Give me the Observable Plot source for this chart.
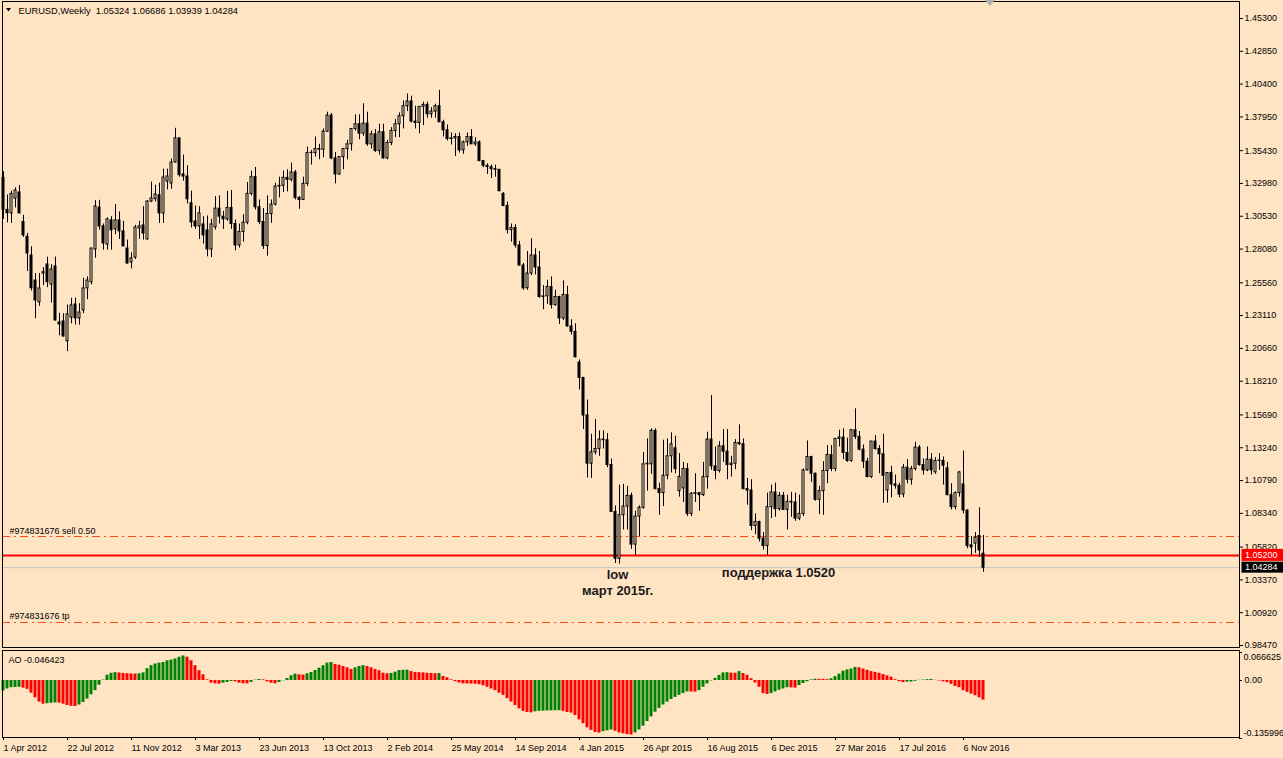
<!DOCTYPE html>
<html>
<head>
<meta charset="utf-8">
<script src="https://cdn.jsdelivr.net/npm/d3@7"></script>
<script src="https://cdn.jsdelivr.net/npm/@observablehq/plot@0.6"></script>
<style>
html,body{margin:0;padding:0;background:#FFE4C4;overflow:hidden;}
#chart{position:relative;width:1283px;height:758px;overflow:hidden;background:#FFE4C4;}
#chart svg{position:absolute;left:0;}
</style>
</head>
<body>
<div id="chart"></div>
<script>
// ---------- data: weekly EURUSD candles, index 0 = week of 1 Apr 2012 ----------
const open = [
1.3340,1.3100,1.3075,1.3185,1.3230,1.3010,1.2900,1.2760,1.2573,1.2410,
1.2625,1.2693,1.2543,1.2678,1.2260,1.2267,1.2120,1.2297,1.2394,1.2290,
1.2350,1.2514,1.2560,1.2805,1.3118,1.2977,1.2842,1.3022,1.2955,1.3022,
1.2940,1.2812,1.2708,1.2745,1.2962,1.2984,1.2880,1.3163,1.3180,1.3210,
1.3074,1.3313,1.3298,1.3455,1.3635,1.3365,1.3350,1.3150,1.3014,1.2977,
1.2992,1.2947,1.2805,1.2970,1.3110,1.3050,1.3030,1.3115,1.2995,1.2835,
1.2935,1.3005,1.3220,1.3345,1.3120,1.3010,1.2830,1.3070,1.3140,1.3275,
1.3280,1.3340,1.3325,1.3380,1.3190,1.3175,1.3295,1.3525,1.3525,1.3555,
1.3550,1.3685,1.3805,1.3485,1.3365,1.3495,1.3555,1.3590,1.3705,1.3740,
1.3670,1.3745,1.3590,1.3665,1.3540,1.3680,1.3485,1.3600,1.3690,1.3740,
1.3800,1.3875,1.3910,1.3760,1.3750,1.3870,1.3885,1.3815,1.3835,1.3875,
1.3755,1.3695,1.3630,1.3635,1.3645,1.3545,1.3605,1.3645,1.3590,1.3605,
1.3465,1.3430,1.3420,1.3405,1.3400,1.3220,1.3130,1.2950,1.2965,1.2835,
1.2685,1.2515,1.2625,1.2760,1.2670,1.2450,1.2455,1.2525,1.2390,1.2450,
1.2290,1.2465,1.2230,1.2190,1.1960,1.1845,1.1565,1.1205,1.1290,1.1315,
1.1385,1.1380,1.1195,1.0845,1.0495,1.0820,1.0885,1.0965,1.0600,1.0810,
1.0875,1.1200,1.1200,1.1450,1.1015,1.0985,1.1115,1.1260,1.1320,1.1000,
1.1020,1.1165,1.0830,1.0980,1.0985,1.0970,1.1105,1.1385,1.1185,1.1150,
1.1335,1.1295,1.1195,1.1205,1.1360,1.1350,1.1015,1.1005,1.0740,1.0770,
1.0645,1.0590,1.0880,1.0990,1.0865,1.0965,1.0860,1.0920,1.0915,1.0795,
1.0830,1.1155,1.1255,1.1130,1.0935,1.1000,1.1150,1.1270,1.1165,1.1390,
1.1400,1.1285,1.1225,1.1455,1.1405,1.1310,1.1220,1.1105,1.1370,1.1315,
1.1275,1.1005,1.1135,1.1050,1.1040,1.0975,1.1175,1.1085,1.1165,1.1325,
1.1195,1.1155,1.1235,1.1140,1.1225,1.1225,1.1170,1.0970,1.0880,1.0985,
1.1050,1.0855,1.0595,1.0608,1.0665,1.05324];
const high = [
1.3385,1.3212,1.3240,1.3265,1.3283,1.3060,1.2925,1.2825,1.2625,1.2626,
1.2670,1.2747,1.2692,1.2748,1.2328,1.2325,1.2390,1.2440,1.2442,1.2400,
1.2590,1.2600,1.2815,1.3170,1.3172,1.2995,1.3040,1.3050,1.3140,1.3085,
1.3015,1.2875,1.2780,1.2985,1.3015,1.3125,1.3170,1.3308,1.3285,1.3300,
1.3405,1.3405,1.3480,1.3710,1.3635,1.3510,1.3430,1.3240,1.3130,1.3125,
1.3050,1.3055,1.3030,1.3200,1.3205,1.3090,1.3240,1.3245,1.3025,1.2995,
1.3065,1.3305,1.3390,1.3418,1.3175,1.3110,1.3205,1.3175,1.3300,1.3345,
1.3390,1.3400,1.3450,1.3395,1.3200,1.3345,1.3570,1.3545,1.3645,1.3590,
1.3705,1.3830,1.3820,1.3530,1.3495,1.3560,1.3620,1.3705,1.3810,1.3810,
1.3893,1.3830,1.3690,1.3700,1.3740,1.3740,1.3620,1.3715,1.3775,1.3825,
1.3915,1.3966,1.3950,1.3875,1.3810,1.3905,1.3905,1.3865,1.3890,1.3993,
1.3770,1.3735,1.3675,1.3670,1.3675,1.3615,1.3675,1.3700,1.3640,1.3615,
1.3470,1.3445,1.3435,1.3435,1.3400,1.3230,1.3160,1.2995,1.2990,1.2865,
1.2700,1.2790,1.2885,1.2810,1.2790,1.2535,1.2575,1.2600,1.2500,1.2455,
1.2570,1.2530,1.2280,1.2250,1.1980,1.1850,1.1680,1.1425,1.1535,1.1450,
1.1450,1.1430,1.1240,1.0890,1.1045,1.1050,1.1035,1.0985,1.0850,1.0890,
1.1290,1.1390,1.1465,1.1465,1.1060,1.1380,1.1390,1.1435,1.1410,1.1280,
1.1215,1.1205,1.0990,1.1130,1.0990,1.1215,1.1440,1.1714,1.1330,1.1370,
1.1460,1.1460,1.1260,1.1385,1.1495,1.1390,1.1095,1.1085,1.0830,1.0775,
1.0690,1.0985,1.1045,1.1060,1.0990,1.0990,1.0970,1.0990,1.0985,1.0970,
1.1165,1.1375,1.1260,1.1135,1.1035,1.1220,1.1340,1.1340,1.1390,1.1455,
1.1465,1.1395,1.1460,1.1615,1.1445,1.1345,1.1245,1.1370,1.1415,1.1340,
1.1425,1.1140,1.1185,1.1120,1.1060,1.1200,1.1235,1.1185,1.1365,1.1340,
1.1240,1.1330,1.1280,1.1250,1.1280,1.1255,1.1215,1.1055,1.0995,1.1145,
1.1300,1.0860,1.0660,1.0690,1.0875,1.06686];
const low = [
1.3030,1.3003,1.3000,1.3115,1.3070,1.2895,1.2640,1.2495,1.2288,1.2380,
1.2535,1.2520,1.2405,1.2270,1.2160,1.2150,1.2042,1.2250,1.2240,1.2240,
1.2325,1.2430,1.2540,1.2740,1.2950,1.2800,1.2800,1.2800,1.2915,1.2880,
1.2825,1.2695,1.2660,1.2730,1.2880,1.2875,1.2875,1.3155,1.3160,1.3000,
1.3000,1.3250,1.3255,1.3450,1.3345,1.3315,1.3145,1.2965,1.2955,1.2880,
1.2845,1.2750,1.2745,1.2950,1.2995,1.2955,1.3015,1.2955,1.2795,1.2815,
1.2860,1.2990,1.3205,1.3100,1.2990,1.2805,1.2755,1.3000,1.3130,1.3190,
1.3230,1.3235,1.3310,1.3175,1.3105,1.3170,1.3275,1.3435,1.3495,1.3475,
1.3490,1.3680,1.3475,1.3295,1.3360,1.3400,1.3475,1.3540,1.3690,1.3625,
1.3650,1.3575,1.3555,1.3530,1.3510,1.3480,1.3475,1.3580,1.3640,1.3640,
1.3705,1.3835,1.3750,1.3705,1.3670,1.3730,1.3785,1.3785,1.3785,1.3755,
1.3645,1.3615,1.3585,1.3500,1.3525,1.3515,1.3575,1.3590,1.3575,1.3460,
1.3415,1.3365,1.3335,1.3345,1.3235,1.3125,1.2920,1.2860,1.2815,1.2680,
1.2500,1.2500,1.2610,1.2615,1.2440,1.2355,1.2395,1.2360,1.2380,1.2245,
1.2275,1.2225,1.2165,1.1995,1.1755,1.1460,1.1098,1.1095,1.1270,1.1260,
1.1315,1.1175,1.0840,1.0460,1.0455,1.0710,1.0710,1.0565,1.0520,1.0660,
1.0865,1.1000,1.1125,1.1010,1.0820,1.0885,1.1085,1.1135,1.1130,1.0955,
1.0915,1.0810,1.0810,1.0915,1.0850,1.0960,1.1015,1.1155,1.1085,1.1135,
1.1215,1.1085,1.1105,1.1160,1.1340,1.1010,1.0895,1.0705,1.0675,1.0620,
1.0560,1.0520,1.0795,1.0805,1.0850,1.0855,1.0710,1.0805,1.0775,1.0780,
1.0810,1.1150,1.1065,1.0925,1.0825,1.0820,1.1055,1.1145,1.1145,1.1330,
1.1235,1.1215,1.1215,1.1385,1.1300,1.1170,1.1100,1.1095,1.1305,1.1130,
1.0910,1.0910,1.0950,1.1015,1.0950,1.0950,1.1055,1.1045,1.1150,1.1185,
1.1120,1.1145,1.1120,1.1125,1.1155,1.1045,1.0965,1.0860,1.0860,1.0955,
1.0830,1.0570,1.0518,1.0535,1.0505,1.03939];
const close = [
1.3100,1.3075,1.3220,1.3245,1.3075,1.2910,1.2775,1.2515,1.2424,1.2514,
1.2635,1.2560,1.2655,1.2275,1.2245,1.2155,1.2320,1.2387,1.2290,1.2334,
1.2514,1.2573,1.2812,1.3126,1.2977,1.2850,1.3030,1.2947,1.3022,1.2940,
1.2828,1.2700,1.2738,1.2969,1.2977,1.2924,1.3163,1.3186,1.3216,1.3074,
1.3342,1.3350,1.3455,1.3635,1.3360,1.3350,1.3180,1.3007,1.2977,1.3074,
1.2910,1.2805,1.2992,1.3110,1.3050,1.3030,1.3115,1.2995,1.2835,1.2935,
1.3005,1.3220,1.3345,1.3120,1.3010,1.2830,1.3070,1.3140,1.3275,1.3280,
1.3340,1.3325,1.3380,1.3190,1.3175,1.3295,1.3525,1.3527,1.3555,1.3550,
1.3685,1.3805,1.3485,1.3365,1.3495,1.3555,1.3590,1.3705,1.3740,1.3670,
1.3745,1.3590,1.3665,1.3540,1.3680,1.3485,1.3600,1.3690,1.3740,1.3800,
1.3875,1.3910,1.3760,1.3750,1.3870,1.3885,1.3815,1.3835,1.3875,1.3755,
1.3695,1.3630,1.3635,1.3645,1.3545,1.3605,1.3645,1.3590,1.3605,1.3465,
1.3430,1.3420,1.3405,1.3400,1.3240,1.3130,1.2950,1.2965,1.2835,1.2685,
1.2515,1.2625,1.2760,1.2670,1.2450,1.2455,1.2525,1.2390,1.2450,1.2290,
1.2465,1.2230,1.2190,1.2000,1.1845,1.1565,1.1205,1.1290,1.1315,1.1385,
1.1380,1.1195,1.0845,1.0495,1.0820,1.0885,1.0965,1.0600,1.0810,1.0875,
1.1200,1.1205,1.1450,1.1015,1.0985,1.1115,1.1260,1.1350,1.1165,1.1105,
1.1165,1.0830,1.0980,1.0985,1.0970,1.1105,1.1385,1.1185,1.1150,1.1335,
1.1295,1.1195,1.1205,1.1360,1.1350,1.1015,1.1005,1.0740,1.0770,1.0645,
1.0590,1.0880,1.0990,1.0865,1.0965,1.0860,1.0920,1.0915,1.0795,1.0830,
1.1155,1.1255,1.1130,1.0935,1.1000,1.1150,1.1270,1.1165,1.1390,1.1400,
1.1285,1.1225,1.1455,1.1405,1.1310,1.1220,1.1105,1.1370,1.1315,1.1275,
1.1115,1.1135,1.1050,1.1040,1.0975,1.1175,1.1085,1.1165,1.1325,1.1195,
1.1155,1.1235,1.1155,1.1225,1.1228,1.1190,1.0970,1.0880,1.0985,1.1140,
1.0855,1.0590,1.0580,1.0653,1.0557,1.04284];
// Awesome Oscillator values per bar
const ao = [
-0.025,-0.020,-0.017,-0.0165,-0.016,-0.018,-0.021,-0.030,-0.041,-0.051,
-0.056,-0.055,-0.054,-0.053,-0.0535,-0.056,-0.059,-0.061,-0.0615,-0.058,
-0.052,-0.044,-0.034,-0.024,-0.011,0.001,0.0125,0.017,0.0185,0.0178,
0.0168,0.016,0.0155,0.015,0.0158,0.018,0.028,0.035,0.039,0.041,
0.0425,0.0465,0.048,0.051,0.055,0.058,0.055,0.0465,0.035,0.023,
0.0134,0.0016,-0.0063,-0.0079,-0.0087,-0.0063,-0.0047,-0.0024,-0.0031,-0.0063,
-0.0079,-0.008,-0.0047,0.0008,0.0024,0.0016,-0.0031,-0.0063,-0.0079,-0.0047,
-0.0008,0.0047,0.011,0.015,0.0134,0.0126,0.0158,0.0189,0.0236,0.029,
0.035,0.041,0.0425,0.038,0.036,0.033,0.030,0.026,0.030,0.033,
0.035,0.033,0.030,0.026,0.023,0.0173,0.0158,0.0165,0.0197,0.0236,
0.024,0.0245,0.021,0.019,0.0185,0.018,0.017,0.0165,0.016,0.0165,
0.0095,0.0063,0.0016,-0.003,-0.006,-0.008,-0.0082,-0.0084,-0.0086,-0.010,
-0.0126,-0.016,-0.020,-0.024,-0.030,-0.035,-0.043,-0.051,-0.059,-0.067,
-0.073,-0.0757,-0.0765,-0.074,-0.073,-0.0725,-0.072,-0.0717,-0.0715,-0.0712,
-0.073,-0.0757,-0.077,-0.083,-0.093,-0.102,-0.112,-0.118,-0.123,-0.1245,
-0.121,-0.119,-0.117,-0.120,-0.124,-0.126,-0.128,-0.129,-0.124,-0.117,
-0.108,-0.097,-0.086,-0.075,-0.066,-0.058,-0.051,-0.045,-0.040,-0.035,
-0.031,-0.027,-0.0272,-0.0275,-0.024,-0.016,-0.008,-0.001,0.005,0.012,
0.018,0.0185,0.0175,0.017,0.021,0.0165,0.012,0.004,-0.006,-0.016,
-0.031,-0.033,-0.031,-0.027,-0.023,-0.020,-0.017,-0.0175,-0.018,-0.012,
-0.007,-0.003,0.0015,0.003,0.0028,0.0025,0.002,0.004,0.009,0.015,
0.022,0.025,0.027,0.031,0.030,0.027,0.024,0.021,0.019,0.017,
0.014,0.011,0.008,0.002,-0.003,-0.005,-0.004,-0.0035,-0.002,0.0005,
0.001,0.002,0.0025,0.0005,-0.001,-0.003,-0.005,-0.009,-0.014,-0.017,
-0.024,-0.028,-0.032,-0.036,-0.041,-0.046423];

const priceTicks = [1.45300,1.42850,1.40400,1.37950,1.35430,1.32980,1.30530,1.28080,1.25560,1.23110,
  1.20660,1.18210,1.15690,1.13240,1.10790,1.08340,1.05820,1.03370,1.00920,0.98470];
const aoTicks = [0.066625, 0, -0.135996];
const aoTickLabels = ["0.066625", "0.00", "-0.135996"];
const xTickIdx = [0,16,32,48,64,80,96,112,128,144,160,176,192,208,224,240];
const xTickLabels = ["1 Apr 2012","22 Jul 2012","11 Nov 2012","3 Mar 2013","23 Jun 2013","13 Oct 2013",
  "2 Feb 2014","25 May 2014","14 Sep 2014","4 Jan 2015","26 Apr 2015","16 Aug 2015","6 Dec 2015",
  "27 Mar 2016","17 Jul 2016","6 Nov 2016"];

const titleText = "EURUSD,Weekly  1.05324 1.06686 1.03939 1.04284";
const aoLabel = "AO -0.046423";
const supportPrice = 1.05200;
const bidPrice = 1.04284;
const sellPrice = 1.0661;
const tpPrice = 1.0019;
const sellLabel = "#974831676 sell 0.50";
const tpLabel = "#974831676 tp";
const annotations = [
  {text: "low", i: 153.5, price: 1.0340},
  {text: "март 2015г.", i: 153.5, price: 1.0225},
  {text: "поддержка 1.0520", i: 193.75, price: 1.0355}
];

// ---------- build ----------
const BG = "#FFE4C4";
const FONT = "'Liberation Sans', Arial, sans-serif";
const bars = open.map((o, i) => ({i, o, h: high[i], l: low[i], c: close[i], up: close[i] >= o}));
const aoData = ao.map((v, i) => ({i, v, up: i === 0 ? true : v > ao[i - 1]}));
const lastIdx = open.length - 1;

const xOpts = {type: "linear", domain: [0, 309], range: [3, 1239], axis: null};

const main = Plot.plot({
  width: 1283, height: 650,
  marginLeft: 2, marginRight: 44, marginTop: 1, marginBottom: 3,
  x: xOpts,
  y: {type: "linear", domain: [0.98470, 1.45300], range: [645, 18], axis: null},
  style: {background: "transparent", fontFamily: FONT, fontSize: "9px", color: "#000", overflow: "visible"},
  marks: [
    Plot.ruleY([sellPrice, tpPrice], {stroke: "#FF4A12", strokeDasharray: "8,4,2,4"}),
    Plot.ruleY([bidPrice], {stroke: "#C0C0C0"}),
    Plot.ruleY([supportPrice], {stroke: "#FF0000", strokeWidth: 2}),
    Plot.ruleX(bars, {x: "i", y1: "l", y2: "h", stroke: "#000"}),
    Plot.rect(bars, {x1: d => d.i - 0.25, x2: d => d.i + 0.25, y1: "o", y2: "c",
      fill: d => d.up ? BG : "#000", stroke: "#000", strokeWidth: 1}),
    Plot.ruleY(bars.filter(d => d.o === d.c), {y: "o", x1: d => d.i - 0.375, x2: d => d.i + 0.375, stroke: "#000"}),
    Plot.text([sellLabel], {frameAnchor: "left", y: () => sellPrice, dx: 7, dy: -2.5, lineAnchor: "bottom", textAnchor: "start", fill: "#000"}),
    Plot.text([tpLabel], {frameAnchor: "left", y: () => tpPrice, dx: 7, dy: -3, lineAnchor: "bottom", textAnchor: "start", fill: "#000"}),
    Plot.text(annotations, {x: "i", y: "price", text: "text", fontWeight: "bold", fontSize: 13,
      textAnchor: "middle", lineAnchor: "bottom", fill: "#1a1a1a"}),
    Plot.frame({stroke: "#000"}),
    Plot.axisY(priceTicks, {anchor: "right", tickSize: 3, tickPadding: 2, tickFormat: d => d.toFixed(5), fill: "#000", stroke: "#000"}),
    (index, scales, values, dimensions) => {
      const g = d3.create("svg:g");
      const xr = dimensions.width - dimensions.marginRight;
      const boxes = [
        {price: supportPrice, bg: "#FF0000", h: 12},
        {price: bidPrice, bg: "#000000", h: 11}
      ];
      for (const b of boxes) {
        const y = scales.y(b.price);
        g.append("rect").attr("x", xr + 2.5).attr("y", y - b.h / 2).attr("width", dimensions.marginRight).attr("height", b.h).attr("fill", b.bg);
        g.append("text").attr("x", xr + 6).attr("y", y).attr("dy", "0.34em").attr("fill", "#fff")
          .attr("text-anchor", "start").attr("font-size", 9).text(b.price.toFixed(5));
      }
      // chart-shift marker
      const xs = scales.x(lastIdx + 1.75);
      g.append("path").attr("d", `M${xs - 5},0L${xs + 5},0L${xs},6Z`).attr("fill", "#B0B0B0");
      // title triangle
      g.append("path").attr("d", "M6,8L11,8L8.5,11.5Z").attr("fill", "#000");
      return g.node();
    },
    Plot.text([titleText], {frameAnchor: "top-left", dx: 16, dy: 12, lineAnchor: "bottom", textAnchor: "start", fill: "#000", fontSize: 9.3})
  ]
});
main.style.top = "0px";

const aoPlot = Plot.plot({
  width: 1283, height: 108,
  marginLeft: 2, marginRight: 44, marginTop: 0, marginBottom: 21,
  x: xOpts,
  y: {type: "linear", domain: [-0.135996, 0.066625], range: [87.5, 1.8], axis: null},
  style: {background: "transparent", fontFamily: FONT, fontSize: "9px", color: "#000", overflow: "visible"},
  marks: [
    Plot.rect(aoData, {x1: d => d.i - 0.375, x2: d => d.i + 0.375, y1: 0, y2: "v",
      fill: d => d.up ? "#008000" : "#FF0000"}),
    Plot.frame({stroke: "#000"}),
    (index, scales, values, dimensions) => {
      const g = d3.create("svg:g");
      const xr = dimensions.width - dimensions.marginRight;
      for (const t of aoTicks) {
        const y = Math.round(scales.y(t)) + 0.5;
        g.append("line").attr("x1", xr).attr("x2", xr + 3).attr("y1", y).attr("y2", y).attr("stroke", "#000");
      }
      return g.node();
    },
    Plot.text([aoTickLabels[0]], {frameAnchor: "top-right", dx: 4, dy: 7, lineAnchor: "middle", textAnchor: "start", fill: "#000"}),
    Plot.text([aoTickLabels[1]], {frameAnchor: "right", y: () => aoTicks[1], dx: 5, lineAnchor: "middle", textAnchor: "start", fill: "#000"}),
    Plot.text([aoTickLabels[2]], {frameAnchor: "bottom-right", dx: 4, dy: -2, lineAnchor: "bottom", textAnchor: "start", fill: "#000"}),
    Plot.axisX(xTickIdx, {anchor: "bottom", tickSize: 3, tickPadding: 4, textAnchor: "start",
      tickFormat: d => xTickLabels[xTickIdx.indexOf(d)], fill: "#000", stroke: "#000"}),
    Plot.text([aoLabel], {frameAnchor: "top-left", dx: 6, dy: 12.7, lineAnchor: "bottom", textAnchor: "start", fill: "#000"})
  ]
});
aoPlot.style.top = "650px";

const root = document.getElementById("chart");
root.appendChild(main);
root.appendChild(aoPlot);
</script>
</body>
</html>
